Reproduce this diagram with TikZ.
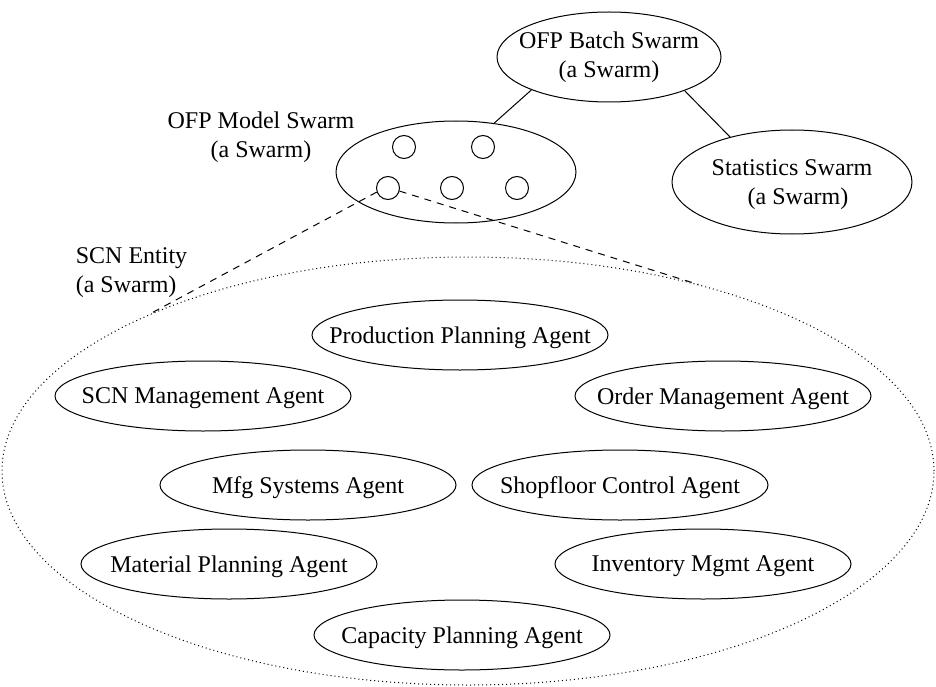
\documentclass[tikz,border=0pt]{standalone}
\usepackage{fontspec}
\setmainfont{Liberation Serif}
\usetikzlibrary{shapes.geometric}
\tikzset{
  txt/.style={font=\fontsize{24}{29}\selectfont},
  swarm/.style={txt, draw, ellipse, align=center, inner xsep=-40pt, inner ysep=0pt},
  agent/.style={txt, draw, ellipse, minimum width=296pt, minimum height=70pt, inner xsep=-40pt, inner ysep=0pt, text depth=0pt},
  member/.style={draw, circle, minimum size=23pt, inner sep=0pt},
}

\begin{document}
\begin{tikzpicture}[x=1pt, y=-1pt, line width=1pt]
        \useasboundingbox (0,0) rectangle (936,687);

        \node[swarm, minimum width=224pt, minimum height=90pt] (batch) at (609,57) {OFP Batch Swarm\\(a Swarm)};
        \node[swarm, minimum width=240pt, minimum height=102pt] (model) at (456,172) {};
        \node[swarm, minimum width=240pt, minimum height=104pt, text depth=0pt] (stats) at (792,182) {Statistics Swarm\\\hspace*{12pt}(a Swarm)};
        \node[txt, align=center] (modellbl) at (261,137) {OFP Model Swarm\\(a Swarm)};

        \node[member] (e1) at (404,147) {};   \node[member] (e2) at (483,147) {};
        \node[member] (e3) at (388,188) {};   \node[member] (e4) at (452,188) {};   \node[member] (e5) at (517,188) {};

        \draw (batch.203)--(model.52);
        \draw (batch.-24)--(stats.144);

        \node[draw, ellipse, dash pattern=on 1pt off 3pt, minimum width=932pt, minimum height=428pt, inner sep=0pt] (scn) at (468,471) {};
        \node[txt, align=left, anchor=west] (scnlbl) at (72,273) {SCN Entity\\(a Swarm)};
        \draw[dash pattern=on 7pt off 6pt] (e3.200)--(scn.154.65);
        \draw[dash pattern=on 7pt off 6pt] (e3.-15)--(scn.39.7);

        \node[agent] (prod) at (460,335) {Production Planning Agent};
        \node[agent] (mgmt) at (203,396) {SCN Management Agent};
        \node[agent] (order) at (723,396) {Order Management Agent};
        \node[agent] (mfg) at (308,485) {Mfg Systems Agent};
        \node[agent] (shop) at (620,485) {Shopfloor Control Agent};
        \node[agent] (mat) at (229,564) {Material Planning Agent};
        \node[agent] (inv) at (703,564) {Inventory Mgmt Agent};
        \node[agent] (cap) at (462,635) {Capacity Planning Agent};

    \end{tikzpicture}
\end{document}
